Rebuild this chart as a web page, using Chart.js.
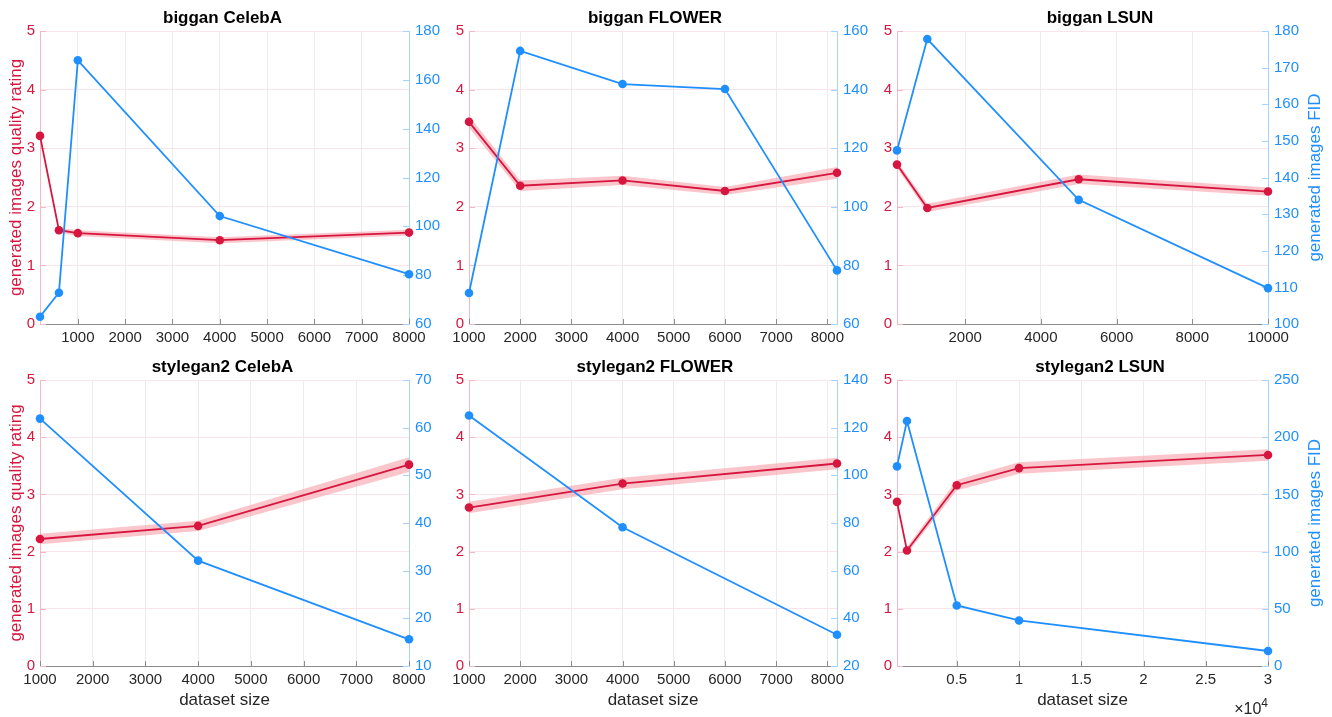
<!DOCTYPE html>
<html>
<head>
<meta charset="utf-8">
<script src="https://cdn.jsdelivr.net/npm/chart.js@4.4.1/dist/chart.umd.min.js"></script>
<style>
html,body{margin:0;background:#fff;}
#fig{position:relative;width:1332px;height:717px;overflow:hidden;}
.cell{position:absolute;}
</style>
</head>
<body>
<div id="fig"></div>
<script>
// biggan CelebA
const BC_X=[200,600,1000,4000,8000];
const BC_RATE=[3.21,1.60,1.55,1.43,1.56];
const BC_SD=[null,0.04,0.05,0.05,0.05];
const BC_FID=[63,72.8,168,104.2,80.4];
const BC_FID_TICKS=[60,80,100,120,140,160,180];
// biggan FLOWER
const BF_X=[1000,2000,4000,6000,8189];
const BF_RATE=[3.45,2.36,2.45,2.27,2.58];
const BF_SD=[0.1,0.09,0.08,0.07,0.1];
const BF_FID=[70.6,153.2,141.9,140.2,78.3];
const BF_FID_TICKS=[60,80,100,120,140,160];
// biggan LSUN
const BL_X=[200,1000,5000,10000];
const BL_RATE=[2.72,1.98,2.47,2.26];
const BL_SD=[0.06,0.07,0.08,0.07];
const BL_FID=[147.4,177.8,133.9,109.8];
const BL_FID_TICKS=[100,110,120,130,140,150,160,170,180];
// stylegan2 CelebA
const SC_X=[1000,4000,8000];
const SC_RATE=[2.22,2.45,3.52];
const SC_SD=[0.09,0.09,0.13];
const SC_FID=[61.9,32.1,15.6];
const SC_FID_TICKS=[10,20,30,40,50,60,70];
// stylegan2 FLOWER
const SF_X=[1000,4000,8189];
const SF_RATE=[2.77,3.19,3.54];
const SF_SD=[0.1,0.1,0.1];
const SF_FID=[125.1,78.2,33.1];
const SF_FID_TICKS=[20,40,60,80,100,120,140];
// stylegan2 LSUN
const SL_X=[200,1000,5000,10000,30000];
const SL_RATE=[2.87,2.02,3.16,3.46,3.69];
const SL_SD=[null,0.06,0.09,0.1,0.1];
const SL_FID=[174.5,214.2,52.9,39.8,13.1];
const SL_FID_TICKS=[0,50,100,150,200,250];

// axis ticks
const RATE_TICKS=[0,1,2,3,4,5];
const X_8K=[1000,2000,3000,4000,5000,6000,7000,8000];
const X_10K=[2000,4000,6000,8000,10000];
const X_30K=[5000,10000,15000,20000,25000,30000];
const X_30K_LABELS=['0.5','1','1.5','2','2.5','3'];

const RED='#d7163f', BLUE='#1f8fff', BAND='rgba(246,160,168,0.6)';
const RED_AX='#f4b8c4', BLUE_AX='#a6d2ff';
const FONT='"Liberation Sans", Helvetica, Arial, sans-serif';
Chart.defaults.font.family=FONT;
Chart.defaults.font.size=15;

// page layout: columns and rows of the grid
const COLS=[{left:0,width:445,yl:40,yr:36},{left:430,width:450,yl:39,yr:43},{left:868,width:464,yl:29,yr:64}];
const ROWS=[{top:0,height:350,xh:26},{top:349,height:368,xh:51}];

const panels=[
  {title:'biggan CelebA',x:BC_X,rate:BC_RATE,sd:BC_SD,fid:BC_FID,fidTicks:BC_FID_TICKS,xMin:200,xMax:8000,xTicks:X_8K,col:0,row:0},
  {title:'biggan FLOWER',x:BF_X,rate:BF_RATE,sd:BF_SD,fid:BF_FID,fidTicks:BF_FID_TICKS,xMin:1000,xMax:8189,xTicks:X_8K,col:1,row:0},
  {title:'biggan LSUN',x:BL_X,rate:BL_RATE,sd:BL_SD,fid:BL_FID,fidTicks:BL_FID_TICKS,xMin:200,xMax:10000,xTicks:X_10K,col:2,row:0},
  {title:'stylegan2 CelebA',x:SC_X,rate:SC_RATE,sd:SC_SD,fid:SC_FID,fidTicks:SC_FID_TICKS,xMin:1000,xMax:8000,xTicks:X_8K,col:0,row:1},
  {title:'stylegan2 FLOWER',x:SF_X,rate:SF_RATE,sd:SF_SD,fid:SF_FID,fidTicks:SF_FID_TICKS,xMin:1000,xMax:8189,xTicks:X_8K,col:1,row:1},
  {title:'stylegan2 LSUN',x:SL_X,rate:SL_RATE,sd:SL_SD,fid:SL_FID,fidTicks:SL_FID_TICKS,xMin:200,xMax:30000,xTicks:X_30K,xLabels:X_30K_LABELS,col:2,row:1}
];

// inner tick marks, right-hand FID title (reads bottom to top) and the x10^4 multiplier
const extras={
  id:'extras',
  beforeDatasetsDraw(chart){
    const ctx=chart.ctx, a=chart.chartArea, s=chart.scales;
    ctx.save(); ctx.lineWidth=1;
    ctx.strokeStyle=RED_AX; ctx.beginPath();
    s.y.ticks.forEach(t=>{const y=Math.round(s.y.getPixelForValue(t.value))+.5; ctx.moveTo(a.left,y); ctx.lineTo(a.left+6,y);});
    ctx.stroke();
    ctx.strokeStyle=BLUE_AX; ctx.beginPath();
    s.y2.ticks.forEach(t=>{const y=Math.round(s.y2.getPixelForValue(t.value))+.5; ctx.moveTo(a.right,y); ctx.lineTo(a.right-6,y);});
    ctx.stroke();
    ctx.strokeStyle='#8c8c8c'; ctx.beginPath();
    s.x.ticks.forEach(t=>{const x=Math.round(s.x.getPixelForValue(t.value))+.5; ctx.moveTo(x,a.bottom); ctx.lineTo(x,a.bottom-5);});
    ctx.stroke();
    ctx.restore();
  },
  afterDraw(chart,args,opt){
    const ctx=chart.ctx, a=chart.chartArea;
    ctx.save();
    if(opt.rightTitle){
      ctx.translate(chart.width-17,(a.top+a.bottom)/2);
      ctx.rotate(-Math.PI/2);
      ctx.fillStyle=BLUE; ctx.font='17px '+FONT;
      ctx.textAlign='center'; ctx.textBaseline='middle';
      ctx.fillText('generated images FID',0,0);
      ctx.setTransform(1,0,0,1,0,0);
    }
    if(opt.exp){
      ctx.fillStyle='#262626'; ctx.textBaseline='alphabetic';
      ctx.font='12px '+FONT;
      ctx.textAlign='right';
      const w4=ctx.measureText('4').width;
      ctx.fillText('4',a.right,a.bottom+41);
      ctx.font='16px '+FONT;
      ctx.fillText('\u00d710',a.right-w4,a.bottom+48);
    }
    ctx.restore();
  }
};

const fig=document.getElementById('fig');
panels.forEach(p=>{
  const c=COLS[p.col], r=ROWS[p.row];
  const cell=document.createElement('div');
  cell.className='cell';
  cell.style.cssText=`left:${c.left}px;top:${r.top}px;width:${c.width}px;height:${r.height}px;`;
  const cv=document.createElement('canvas');
  cell.appendChild(cv); fig.appendChild(cell);

  const pts=ys=>p.x.map((x,i)=>({x,y:ys[i]}));
  const hi=p.rate.map((v,i)=>p.sd[i]==null?null:v+p.sd[i]);
  const lo=p.rate.map((v,i)=>p.sd[i]==null?null:v-p.sd[i]);
  const labels=p.xLabels||p.xTicks.map(String);

  new Chart(cv,{
    type:'line',
    data:{datasets:[
      {label:'FID',data:pts(p.fid),yAxisID:'y2',borderColor:BLUE,backgroundColor:BLUE,borderWidth:1.8,pointRadius:4.3,pointBorderWidth:0,clip:false,order:0},
      {label:'rating',data:pts(p.rate),yAxisID:'y',borderColor:RED,backgroundColor:RED,borderWidth:1.8,pointRadius:4.3,pointBorderWidth:0,clip:false,order:1},
      {label:'hi',data:pts(hi),yAxisID:'y',borderWidth:0,pointRadius:0,fill:false,clip:false,order:3},
      {label:'lo',data:pts(lo),yAxisID:'y',borderWidth:0,pointRadius:0,fill:'-1',backgroundColor:BAND,clip:false,order:2}
    ]},
    options:{
      responsive:true,maintainAspectRatio:false,animation:false,
      layout:{padding:0},
      plugins:{
        legend:{display:false},tooltip:{enabled:false},
        title:{display:true,text:p.title,color:'#000',font:{size:17,weight:'bold'},padding:{top:8,bottom:2.6}},
        extras:{rightTitle:p.col===2,exp:!!p.xLabels}
      },
      scales:{
        x:{type:'linear',min:p.xMin,max:p.xMax,
          afterBuildTicks:s=>{s.ticks=p.xTicks.map(v=>({value:v}));},
          afterFit:s=>{s.height=r.xh;},
          ticks:{color:'#262626',padding:5,maxRotation:0,autoSkip:false,callback:(v)=>labels[p.xTicks.indexOf(v)]},
          grid:{color:'#ececec',drawTicks:false},
          border:{color:'#8c8c8c'},
          title:{display:p.row===1,text:'dataset size',color:'#262626',font:{size:17},padding:{top:0,bottom:6}}
        },
        y:{position:'left',min:0,max:5,
          afterBuildTicks:s=>{s.ticks=RATE_TICKS.map(v=>({value:v}));},
          afterFit:s=>{s.width=c.yl;},
          ticks:{color:RED,padding:5},
          grid:{color:'#fbe4e9',drawTicks:false},
          border:{color:RED_AX},
          title:{display:p.col===0,text:'generated images quality rating',color:RED,font:{size:17},padding:{top:6,bottom:0}}
        },
        y2:{position:'right',min:p.fidTicks[0],max:p.fidTicks[p.fidTicks.length-1],
          afterBuildTicks:s=>{s.ticks=p.fidTicks.map(v=>({value:v}));},
          afterFit:s=>{s.width=c.yr;},
          ticks:{color:BLUE,padding:6},
          grid:{drawOnChartArea:false,drawTicks:false},
          border:{color:BLUE_AX}
        }
      }
    },
    plugins:[extras]
  });
});
</script>
</body>
</html>
